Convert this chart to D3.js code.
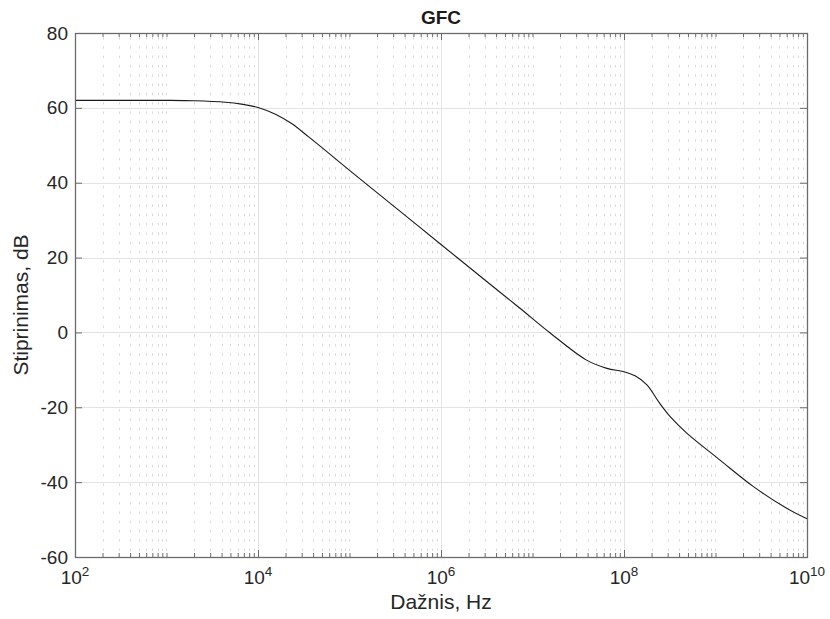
<!DOCTYPE html>
<html>
<head>
<meta charset="utf-8">
<script src="https://cdn.jsdelivr.net/npm/d3@7"></script>
<style>
  html, body { margin: 0; padding: 0; background: #fff; }
  svg { display: block; font-family: "Liberation Sans", Arial, Helvetica, sans-serif; }
</style>
</head>
<body>
<svg id="chart" width="830" height="619"></svg>
<script>
// Frequency response: frequency in Hz and gain in dB
const freqHz = [1e2, 3.2e2, 1e3, 2e3, 4.4e3, 6.6e3, 1e4, 1.55e4, 2.33e4, 3.55e4, 5.4e4,
                1e5, 3.16e5, 1e6, 3.16e6, 7.3e6, 1.55e7, 3.9e7, 6.5e7, 1e8, 1.32e8,
                1.78e8, 2.45e8, 3.2e8, 4.85e8, 1.12e9, 2.6e9, 6e9, 1e10];
const gainDb = [62.0, 62.0, 62.0, 61.9, 61.5, 61.0, 60.1, 58.3, 55.8, 52.3, 48.7,
                43.3, 33.4, 23.5, 13.6, 6.45, -0.1, -7.4, -9.6, -10.5, -11.6,
                -14.0, -18.9, -22.5, -26.9, -34.1, -41.2, -47.0, -49.8];

// Axis settings
const xDomain = [1e2, 1e10];
const yDomain = [-60, 80];
const yTicks = [-60, -40, -20, 0, 20, 40, 60, 80];
const xMajorExp = [2, 4, 6, 8, 10];

const titleText = "GFC";
const xLabelText = "Dažnis, Hz";
const yLabelText = "Stiprinimas, dB";

const svg = d3.select("#chart");
const m = { left: 75, top: 33, right: 807, bottom: 557 };

const x = d3.scaleLog().domain(xDomain).range([m.left, m.right]);
const y = d3.scaleLinear().domain(yDomain).range([m.bottom, m.top]);

// Minor log ticks: every 1..9 × 10^k that is not a labelled decade
const minorX = [];
for (let e = 2; e < 10; e++) {
  for (let k = 1; k <= 9; k++) {
    const v = k * Math.pow(10, e);
    if (!(k === 1 && xMajorExp.includes(e))) minorX.push(v);
  }
}
const majorX = xMajorExp.map(e => Math.pow(10, e));

const axisColor = "#6b6b6b";
const g = svg.append("g");

// Minor vertical grid (dotted)
g.append("g").selectAll("line").data(minorX).join("line")
  .attr("x1", d => Math.round(x(d)) + 0.5).attr("x2", d => Math.round(x(d)) + 0.5)
  .attr("y1", m.top + 4).attr("y2", m.bottom)
  .attr("stroke", "#dadada").attr("stroke-width", 1)
  .attr("stroke-dasharray", "2.5,6.8");

// Major grid (solid)
g.append("g").selectAll("line").data(majorX).join("line")
  .attr("x1", d => Math.round(x(d)) + 0.5).attr("x2", d => Math.round(x(d)) + 0.5)
  .attr("y1", m.top).attr("y2", m.bottom)
  .attr("stroke", "#e3e3e3").attr("stroke-width", 1);
g.append("g").selectAll("line").data(yTicks).join("line")
  .attr("x1", m.left).attr("x2", m.right)
  .attr("y1", d => Math.round(y(d)) + 0.5).attr("y2", d => Math.round(y(d)) + 0.5)
  .attr("stroke", "#e3e3e3").attr("stroke-width", 1);

// Response curve
const line = d3.line()
  .x((d, i) => x(freqHz[i]))
  .y(d => y(d))
  .curve(d3.curveCatmullRom.alpha(0.5));
g.append("path").datum(gainDb)
  .attr("d", line)
  .attr("fill", "none")
  .attr("stroke", "#1a1a1a")
  .attr("stroke-width", 1.1);

// Axes with inward ticks on all four sides
const bottomAxis = d3.axisBottom(x).tickValues(majorX).tickSizeInner(-7).tickSizeOuter(0).tickFormat("");
const topAxis = d3.axisTop(x).tickValues(majorX).tickSizeInner(-7).tickSizeOuter(0).tickFormat("");
const bottomMinor = d3.axisBottom(x).tickValues(minorX).tickSizeInner(-4).tickSizeOuter(0).tickFormat("");
const topMinor = d3.axisTop(x).tickValues(minorX).tickSizeInner(-4).tickSizeOuter(0).tickFormat("");
const leftAxis = d3.axisLeft(y).tickValues(yTicks).tickSizeInner(-7).tickSizeOuter(0).tickFormat("");
const rightAxis = d3.axisRight(y).tickValues(yTicks).tickSizeInner(-7).tickSizeOuter(0).tickFormat("");

function styleAxis(sel) {
  sel.selectAll("path").attr("stroke", axisColor);
  sel.selectAll("line").attr("stroke", axisColor);
}
g.append("g").attr("transform", `translate(0,${m.bottom})`).call(bottomMinor).call(styleAxis);
g.append("g").attr("transform", `translate(0,${m.top})`).call(topMinor).call(styleAxis);
g.append("g").attr("transform", `translate(0,${m.bottom})`).call(bottomAxis).call(styleAxis);
g.append("g").attr("transform", `translate(0,${m.top})`).call(topAxis).call(styleAxis);
g.append("g").attr("transform", `translate(${m.left},0)`).call(leftAxis).call(styleAxis);
g.append("g").attr("transform", `translate(${m.right},0)`).call(rightAxis).call(styleAxis);

// Plot box
g.append("rect")
  .attr("x", m.left + 0.5).attr("y", m.top + 0.5)
  .attr("width", m.right - m.left).attr("height", m.bottom - m.top)
  .attr("fill", "none").attr("stroke", axisColor).attr("stroke-width", 1.3);

// Y tick labels
g.append("g").selectAll("text").data(yTicks).join("text")
  .attr("x", m.left - 7).attr("y", d => y(d) + 6.5)
  .attr("text-anchor", "end")
  .attr("font-size", 19).attr("fill", "#262626")
  .text(d => d);

// X tick labels as powers of ten
const xl = g.append("g").selectAll("text").data(xMajorExp).join("text")
  .attr("x", d => x(Math.pow(10, d)))
  .attr("y", 584)
  .attr("text-anchor", "middle")
  .attr("font-size", 19).attr("fill", "#262626");
xl.append("tspan").text("10");
xl.append("tspan").attr("dy", -8).attr("font-size", 13.5).text(d => d);

// Title and axis labels
svg.append("text").attr("x", (m.left + m.right) / 2).attr("y", 24)
  .attr("text-anchor", "middle").attr("font-size", 19).attr("font-weight", "bold")
  .attr("fill", "#1a1a1a").text(titleText);
svg.append("text").attr("x", (m.left + m.right) / 2).attr("y", 609)
  .attr("text-anchor", "middle").attr("font-size", 21)
  .attr("fill", "#262626").text(xLabelText);
svg.append("text")
  .attr("transform", `translate(28,${(m.top + m.bottom) / 2 + 10}) rotate(-90)`)
  .attr("text-anchor", "middle").attr("font-size", 21)
  .attr("fill", "#262626").text(yLabelText);
</script>
</body>
</html>
